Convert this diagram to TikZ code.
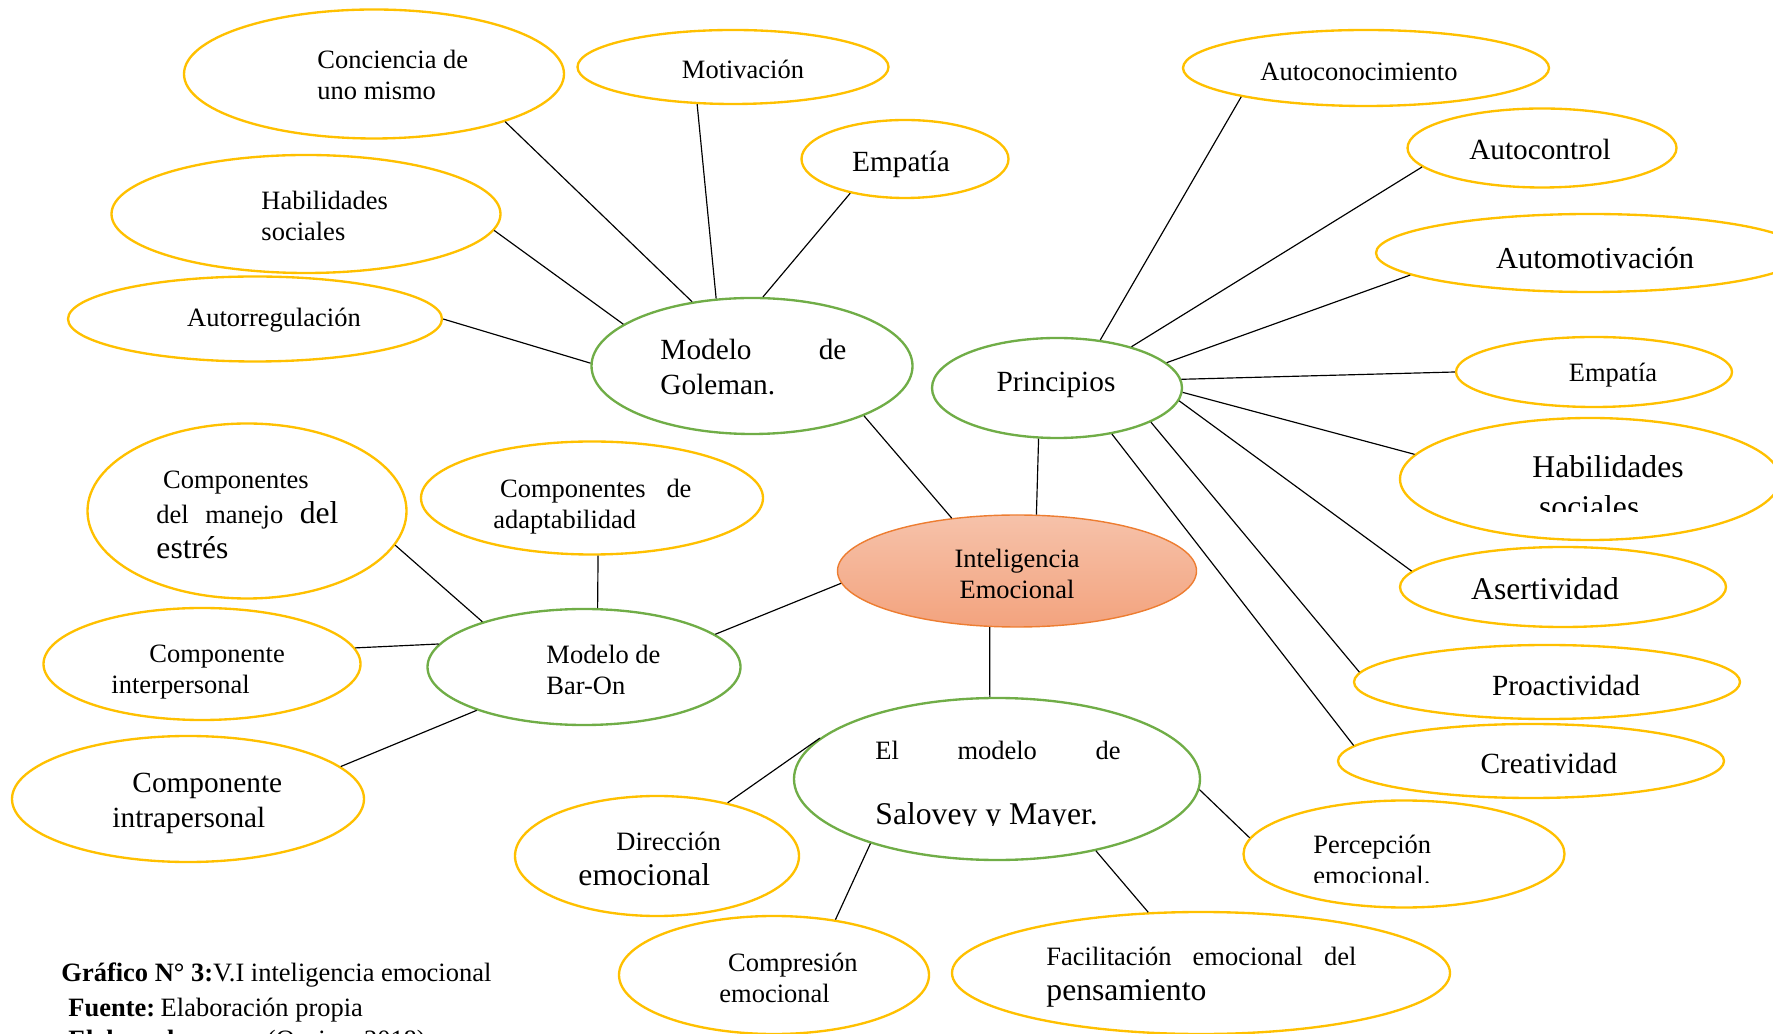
\documentclass[tikz,border=0pt]{standalone}
\usepackage{fontspec}
\setmainfont{Liberation Serif}
\usepackage{tikz}
\usetikzlibrary{shapes.geometric}
\usepackage{xcolor}
\definecolor{leafyellow}{RGB}{255,192,0}
\definecolor{modelgreen}{RGB}{112,173,71}
\definecolor{coreorange}{RGB}{237,125,49}
\definecolor{coretop}{RGB}{246,194,170}
\definecolor{corebottom}{RGB}{243,163,126}
\newcommand{\txtS}{\fontsize{11.3}{13.3}\selectfont}
\newcommand{\txtM}{\fontsize{12.5}{15}\selectfont}
\newcommand{\txtL}{\fontsize{13.5}{14.5}\selectfont}
\tikzset{%
	leaf/.style={
		ellipse,
		draw=leafyellow,
		line width=1pt,
		inner sep=0pt
	},
	model/.style={
		ellipse,
		draw=modelgreen,
		line width=1pt,
		inner sep=0pt
	},
	core/.style={
		ellipse,
		draw=coreorange,
		line width=0.6pt,
		top color=coretop,
		bottom color=corebottom,
		inner sep=0pt
	},
	dims/.style 2 args={minimum width=#1*0.015cm, minimum height=#2*0.015cm},
	stxt/.style={font=\txtS, inner sep=0pt},
	mtxt/.style={font=\txtM, inner sep=0pt},
	ltxt/.style={font=\txtL, inner sep=0pt},
	link/.style={line width=0.5pt}
}

\begin{document}
\begin{tikzpicture}[x=0.015cm, y=-0.015cm]
	\clip (0,0) rectangle (1773,1034);
	% centro
	\node[core, dims={359}{112}] (ie) at (1017,571) {};
	\node[stxt, align=center] (t-ie) at (1017,574) {Inteligencia\\Emocional};
	% modelo de Goleman
	\node[model, dims={321}{136}] (goleman) at (752,366) {};
	\node[mtxt, anchor=west, text width=2.79cm, align=left] (t-goleman) at (660,367) {Modelo\hfill de\\Goleman.};
	\node[leaf, dims={380}{129}] (conciencia) at (374,74) {};
	\node[stxt, anchor=west, align=left] (t-conciencia) at (317,75) {Conciencia de\\uno mismo};
	\node[leaf, dims={311}{74}] (motivacion) at (733,67) {};
	\node[stxt] (t-motivacion) at (743,69) {Motivación};
	\node[leaf, dims={207}{78}] (empatia1) at (905,159) {};
	\node[mtxt] (t-empatia1) at (901,164) {Empatía};
	\node[leaf, dims={389}{118}] (habilidades1) at (306,214) {};
	\node[stxt, anchor=west, align=left] (t-habilidades1) at (261,216) {Habilidades\\sociales};
	\node[leaf, dims={374}{85}] (autorregulacion) at (255,319) {};
	\node[stxt] (t-autorregulacion) at (274,320) {Autorregulación};
	% principios
	\node[model, dims={250}{100}] (principios) at (1057,388) {};
	\node[mtxt] (t-principios) at (1056,385) {Principios};
	\node[leaf, dims={366}{76}] (autoconocimiento) at (1366,68) {};
	\node[stxt] (t-autoconocimiento) at (1359,72) {Autoconocimiento};
	\node[leaf, dims={269}{79}] (autocontrol) at (1542,148) {};
	\node[mtxt] (t-autocontrol) at (1540,149) {Autocontrol};
	\node[leaf, dims={428}{78}] (automotivacion) at (1590,253) {};
	\node[mtxt, font=\fontsize{13}{15}\selectfont] (t-automotivacion) at (1595,258) {Automotivación};
	\node[leaf, dims={276}{70}] (empatia2) at (1594,372) {};
	\node[stxt] (t-empatia2) at (1613,375) {Empatía};
	\node[leaf, dims={380}{122}] (habilidades2) at (1590,479) {};
	\begin{scope}
		\clip (1400,420) rectangle (1773,512);
		\node[ltxt, font=\fontsize{13.5}{17}\selectfont, anchor=west, align=left] (t-habilidades2) at (1532,487) {Habilidades\\\hspace*{0.1cm}sociales};
	\end{scope}
	\node[leaf, dims={326}{80}] (asertividad) at (1563,587) {};
	\node[ltxt] (t-asertividad) at (1545,589) {Asertividad};
	\node[leaf, dims={386}{74}] (proactividad) at (1547,682) {};
	\node[mtxt] (t-proactividad) at (1566,685) {Proactividad};
	\node[leaf, dims={386}{74}] (creatividad) at (1531,761) {};
	\node[mtxt] (t-creatividad) at (1549,763) {Creatividad};
	% modelo de Bar-On
	\node[model, dims={313}{116}] (baron) at (584,667) {};
	\node[stxt, anchor=west, align=left] (t-baron) at (546,670) {Modelo de\\Bar-On};
	\node[leaf, dims={342}{113}] (adaptabilidad) at (592,498) {};
	\node[stxt, anchor=west, text width=2.97cm, align=left] (t-adaptabilidad) at (493,507) {\hspace*{0.1cm}Componentes\hfill de\\adaptabilidad};
	\node[leaf, dims={319}{175}] (estres) at (247,511) {};
	\node[stxt, font=\fontsize{11.3}{15}\selectfont, anchor=west, text width=2.73cm, align=left] (t-estres) at (156,515) {\hspace*{0.1cm}Componentes\\del\hfill manejo\hfill{\txtL del}\\{\txtL estrés}};
	\node[leaf, dims={317}{112}] (interpersonal) at (202,664) {};
	\node[stxt, anchor=west, align=left] (t-interpersonal) at (111,672) {\hspace*{0.57cm}Componente\\interpersonal};
	\node[leaf, dims={352}{126}] (intrapersonal) at (188,799) {};
	\node[mtxt, anchor=west, align=left] (t-intrapersonal) at (112,803) {\hspace*{0.3cm}Componente\\intrapersonal};
	% modelo de Salovey y Mayer
	\node[model, dims={406}{162}] (salovey) at (997,779) {};
	\node[stxt, anchor=west, text width=3.675cm, align=left] (t-salovey1) at (875,750) {El\hfill modelo\hfill de};
	\begin{scope}
		\clip (850,790) rectangle (1150,825);
		\node[ltxt, anchor=base west] (t-salovey2) at (875,824) {Salovey y Mayer.};
	\end{scope}
	\node[leaf, dims={284}{120}] (direccion) at (657,856) {};
	\node[stxt, font=\fontsize{11.3}{15}\selectfont, anchor=west, align=left] (t-direccion) at (578,859) {\hspace*{0.57cm}Dirección\\{\txtL emocional}};
	\node[leaf, dims={310}{118}] (compresion) at (774,975) {};
	\node[stxt, anchor=west, align=left] (t-compresion) at (719,978) {\hspace*{0.13cm}Compresión\\emocional};
	\node[leaf, dims={498}{122}] (facilitacion) at (1201,973) {};
	\node[stxt, font=\fontsize{11.3}{15}\selectfont, anchor=west, text width=4.65cm, align=left] (t-facilitacion) at (1046,977) {Facilitación\hfill emocional\hfill del\\{\txtL pensamiento}};
	\node[leaf, dims={321}{107}] (percepcion) at (1404,854) {};
	\begin{scope}
		\clip (1260,820) rectangle (1560,882);
		\node[stxt, anchor=west, align=left] (t-percepcion) at (1313,860) {Percepción\\emocional.};
	\end{scope}
	% conectores
	\draw[link] (conciencia.-20) -- (goleman.133);
	\draw[link] (motivacion.-134) -- (goleman.118);
	\draw[link] (empatia1.-148) -- (goleman.81);
	\draw[link] (habilidades1.-5) -- (goleman.162);
	\draw[link] (autorregulacion.0) -- (goleman.179);
	\draw[link] (goleman.-24) -- (ie.141);
	\draw[link] (principios.48) -- (autoconocimiento.-167);
	\draw[link] (principios.29) -- (autocontrol.-171);
	\draw[link] (principios.13) -- (automotivacion.-173);
	\draw[link] (principios.4) -- (empatia2.180);
	\draw[link] (principios.-2) -- (habilidades2.172);
	\draw[link] (principios.-6) -- (asertividad.174);
	\draw[link] (principios.-20) -- (proactividad.177);
	\draw[link] (principios.-40) -- (creatividad.175);
	\draw[link] (principios.-110) -- (ie.71);
	\draw[link] (baron.14) -- (ie.-176);
	\draw[link] (adaptabilidad.-84) -- (baron.77);
	\draw[link] (estres.-13) -- (baron.156);
	\draw[link] (interpersonal.6) -- (baron.171);
	\draw[link] (intrapersonal.12) -- (baron.-158);
	\draw[link] (ie.-116) -- (salovey.95);
	\draw[link] (direccion.37) -- (salovey.167);
	\draw[link] (compresion.42) -- (salovey.-153);
	\draw[link] (facilitacion.131) -- (salovey.-36);
	\draw[link] (percepcion.174) -- (salovey.-3);
	% leyenda
	\node[stxt, anchor=base west] (caption1) at (61,981) {\textbf{Gráfico N° 3:}V.I inteligencia emocional};
	\node[stxt, anchor=base west] (caption2) at (68,1016) {\textbf{Fuente:}\hspace{-0.05cm} Elaboración propia};
	\node[stxt, anchor=base west] (caption3) at (68,1048) {\textbf{Elaborado por:}\hspace{0.23cm} (Ospina, 2018)};
\end{tikzpicture}
\end{document}
